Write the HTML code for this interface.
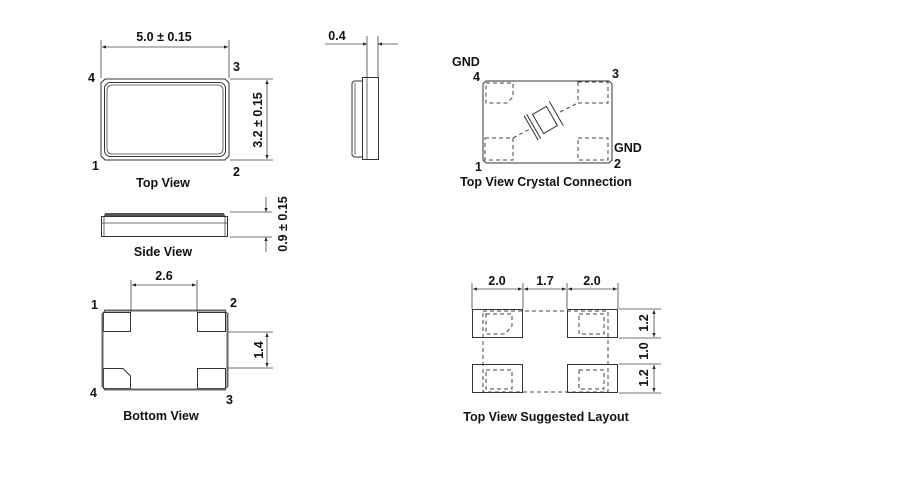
<!DOCTYPE html>
<html><head><meta charset="utf-8"><style>
html,body{margin:0;padding:0;background:#fff;width:900px;height:500px;overflow:hidden}
svg{display:block}
text{font-family:"Liberation Sans",Arial,sans-serif;font-weight:bold;font-size:12.5px;fill:#111}
.l{stroke:#333;stroke-width:1;fill:none}
.d{stroke:#444;stroke-width:1;fill:none;stroke-dasharray:4,3}
.t{stroke:#444;stroke-width:0.8;fill:none}
</style></head><body>
<svg width="900" height="500" viewBox="0 0 900 500">
<defs>
<marker id="a" viewBox="0 0 10 10" refX="10" refY="5" markerWidth="7" markerHeight="5" orient="auto-start-reverse"><path d="M0,1 L10,5 L0,9 z" fill="#222"/></marker>
</defs>

<!-- Top view -->
<path class="l" d="M105,79 H225 L229,83 V156 L225,160 H105 L101,156 V83 Z" stroke-width="1.2"/>
<rect class="l" x="104.5" y="82.5" width="121" height="74" rx="6" stroke-width="1.5"/>
<rect class="t" x="107" y="85" width="116" height="69" rx="5"/>
<line class="t" x1="101" y1="40" x2="101" y2="78"/>
<line class="t" x1="229" y1="40" x2="229" y2="78"/>
<line class="t" x1="102" y1="47" x2="228" y2="47" marker-start="url(#a)" marker-end="url(#a)"/>
<text x="164" y="41" text-anchor="middle">5.0 ± 0.15</text>
<line class="t" x1="230" y1="79" x2="273" y2="79"/>
<line class="t" x1="230" y1="160" x2="273" y2="160"/>
<line class="t" x1="267" y1="80" x2="267" y2="159" marker-start="url(#a)" marker-end="url(#a)"/>
<text transform="translate(262,120) rotate(-90)" text-anchor="middle">3.2 ± 0.15</text>
<text x="88" y="82">4</text><text x="233" y="71">3</text>
<text x="92" y="170">1</text><text x="233" y="176">2</text>
<text x="163" y="187" text-anchor="middle">Top View</text>

<!-- end view -->
<rect class="l" x="362.5" y="77.5" width="16" height="82"/>
<line class="t" x1="367" y1="78" x2="367" y2="159"/>
<path class="l" d="M362,81 H354 L352,83 V155 L354,157 H362"/>
<line class="t" x1="355" y1="83" x2="355" y2="155"/>
<line class="t" x1="367" y1="36" x2="367" y2="77"/>
<line class="t" x1="378" y1="36" x2="378" y2="77"/>
<line class="t" x1="325" y1="44" x2="367" y2="44" marker-end="url(#a)"/>
<line class="t" x1="398" y1="44" x2="378" y2="44" marker-end="url(#a)"/>
<text x="337" y="40" text-anchor="middle">0.4</text>

<!-- side view -->
<path d="M104,216 L105,213 H224 L225,216 Z" fill="#555"/>
<rect class="l" x="101.5" y="216.5" width="126" height="20"/>
<line class="t" x1="102" y1="223" x2="227" y2="223"/>
<line class="t" x1="104" y1="217" x2="104" y2="236"/>
<line class="t" x1="225" y1="217" x2="225" y2="236"/>
<line class="t" x1="230" y1="212" x2="272" y2="212"/>
<line class="t" x1="230" y1="237" x2="272" y2="237"/>
<line class="t" x1="266" y1="197" x2="266" y2="212" marker-end="url(#a)"/>
<line class="t" x1="266" y1="252" x2="266" y2="237" marker-end="url(#a)"/>
<text transform="translate(287,224) rotate(-90)" text-anchor="middle">0.9 ± 0.15</text>
<text x="163" y="256" text-anchor="middle">Side View</text>

<!-- bottom view -->
<path class="l" d="M106,310 H224 L228,314 V386 L224,390 H106 L102,386 V314 Z" stroke-width="1.2"/>
<rect class="l" x="103.5" y="312.5" width="27" height="19"/>
<rect class="l" x="197.5" y="312.5" width="28" height="19"/>
<path class="l" d="M103.5,368.5 H123 L130.5,376 V388.5 H103.5 Z"/>
<rect class="l" x="197.5" y="368.5" width="28" height="20"/>
<path d="M104,310.5 H226 M104,389.5 H226 M102.5,313 V387 M227.5,313 V387" stroke="#666" stroke-width="2" fill="none"/>
<line class="t" x1="131" y1="280" x2="131" y2="312"/>
<line class="t" x1="197" y1="280" x2="197" y2="312"/>
<line class="t" x1="132" y1="285" x2="196" y2="285" marker-start="url(#a)" marker-end="url(#a)"/>
<text x="164" y="280" text-anchor="middle">2.6</text>
<line class="t" x1="228" y1="332" x2="273" y2="332"/>
<line class="t" x1="228" y1="368" x2="273" y2="368"/>
<line class="t" x1="267" y1="333" x2="267" y2="367" marker-start="url(#a)" marker-end="url(#a)"/>
<text transform="translate(263,350) rotate(-90)" text-anchor="middle">1.4</text>
<text x="91" y="309">1</text><text x="230" y="307">2</text>
<text x="90" y="397">4</text><text x="226" y="404">3</text>
<text x="161" y="420" text-anchor="middle">Bottom View</text>

<!-- crystal connection -->
<path class="l" d="M486,81 H609 L612,84 V160 L609,163 H486 L483,160 V84 Z" stroke-width="1.2"/>
<path class="d" d="M486,83 H513 V97 L507,103 H486 Z"/>
<rect class="d" x="578" y="82" width="30" height="21"/>
<rect class="d" x="485" y="138" width="28" height="22"/>
<rect class="d" x="578" y="138" width="30" height="22"/>
<line class="d" x1="513" y1="138" x2="530" y2="129"/>
<line class="d" x1="560" y1="112" x2="578" y2="103"/>
<g transform="translate(545,120) rotate(-30)">
<rect class="l" x="-8" y="-11" width="16" height="22"/>
<line class="l" x1="-13" y1="-14" x2="-13" y2="14"/>
<line class="l" x1="-16" y1="-14" x2="-16" y2="14"/>
<line class="l" x1="13" y1="-14" x2="13" y2="14"/>
</g>
<text x="452" y="66">GND</text><text x="473" y="81">4</text>
<text x="612" y="78">3</text>
<text x="614" y="152">GND</text>
<text x="475" y="171">1</text><text x="614" y="168">2</text>
<text x="546" y="186" text-anchor="middle">Top View Crystal Connection</text>

<!-- suggested layout -->
<rect class="l" x="472.5" y="309.5" width="50" height="28"/>
<rect class="l" x="567.5" y="309.5" width="50" height="28"/>
<rect class="l" x="472.5" y="364.5" width="50" height="28"/>
<rect class="l" x="567.5" y="364.5" width="50" height="28"/>
<rect class="d" x="483" y="311" width="125" height="81"/>
<path class="d" d="M486,314 H512 V326 L505,334 H486 Z"/>
<rect class="d" x="579" y="314" width="25" height="20"/>
<rect class="d" x="486" y="370" width="26" height="19"/>
<rect class="d" x="579" y="370" width="25" height="19"/>
<line class="t" x1="472" y1="283" x2="472" y2="309"/>
<line class="t" x1="523" y1="283" x2="523" y2="309"/>
<line class="t" x1="567" y1="283" x2="567" y2="309"/>
<line class="t" x1="618" y1="283" x2="618" y2="309"/>
<line class="t" x1="473" y1="289" x2="522" y2="289" marker-start="url(#a)" marker-end="url(#a)"/>
<line class="t" x1="524" y1="289" x2="566" y2="289" marker-start="url(#a)" marker-end="url(#a)"/>
<line class="t" x1="568" y1="289" x2="617" y2="289" marker-start="url(#a)" marker-end="url(#a)"/>
<text x="497" y="285" text-anchor="middle">2.0</text>
<text x="545" y="285" text-anchor="middle">1.7</text>
<text x="592" y="285" text-anchor="middle">2.0</text>
<line class="t" x1="619" y1="309" x2="661" y2="309"/>
<line class="t" x1="619" y1="338" x2="661" y2="338"/>
<line class="t" x1="619" y1="364" x2="661" y2="364"/>
<line class="t" x1="619" y1="393" x2="661" y2="393"/>
<line class="t" x1="654" y1="310" x2="654" y2="337" marker-start="url(#a)" marker-end="url(#a)"/>
<line class="t" x1="654" y1="365" x2="654" y2="392" marker-start="url(#a)" marker-end="url(#a)"/>
<text transform="translate(648,323) rotate(-90)" text-anchor="middle">1.2</text>
<text transform="translate(648,351) rotate(-90)" text-anchor="middle">1.0</text>
<text transform="translate(648,378) rotate(-90)" text-anchor="middle">1.2</text>
<text x="546" y="421" text-anchor="middle">Top View Suggested Layout</text>
</svg>
</body></html>
